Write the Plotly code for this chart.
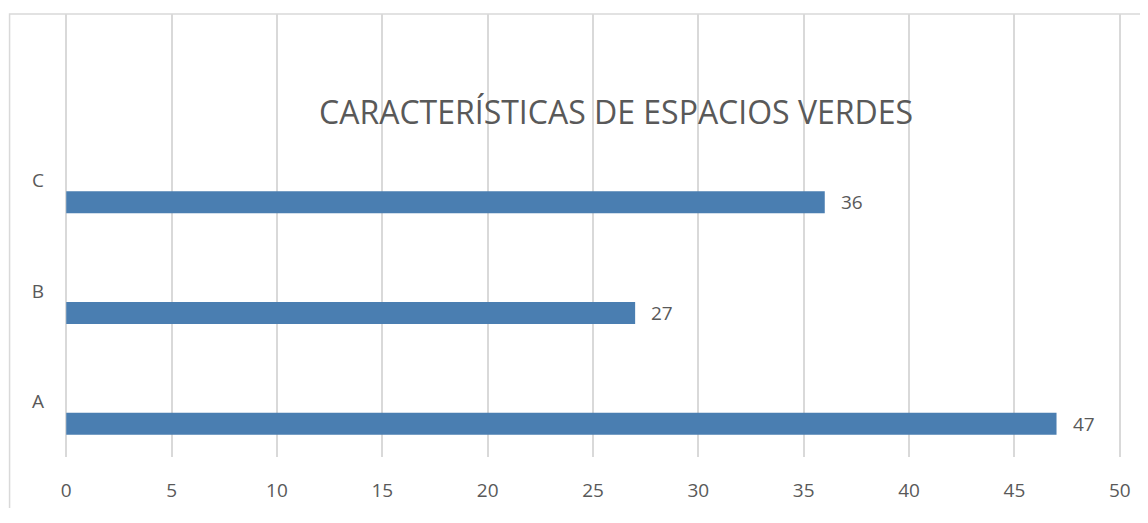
"""
Horizontal bar chart: Características de espacios verdes
"""
import plotly.graph_objects as go

categories = ["A", "B", "C"]
values = [47, 27, 36]
x_ticks = list(range(0, 55, 5))
title_text = "CARACTERÍSTICAS DE ESPACIOS VERDES"

BAR_COLOR = "rgb(74,126,177)"
TEXT_COLOR = "#595959"
GRID_COLOR = "#d9d9d9"
FONT = "Open Sans"

fig = go.Figure()
fig.add_trace(go.Bar(y=categories, x=values, orientation="h",
                     marker={'color': BAR_COLOR, 'line': {'width': 0}},
                     width=0.2, offset=-0.3,
                     hoverinfo="x+y", showlegend=False))

# data labels to the right of each bar, level with the (offset) bar
for cat, v in zip(categories, values):
    fig.add_annotation(x=v, y=cat, text=str(v), showarrow=False,
                       xanchor="left", yanchor="middle", xshift=14, yshift=-22,
                       font={'family': FONT, 'size': 19, 'color': TEXT_COLOR})

# page body has an 8px margin; keep the figure inside the window (no scrollbars)
fig.update_layout(width=1140, height=500,
                  margin={'l': 57, 'r': 27, 't': 6, 'b': 51},
                  paper_bgcolor="white", plot_bgcolor="white",
                  font={'family': FONT, 'color': TEXT_COLOR, 'size': 19},
                  showlegend=False)

# range padded a hair so the gridlines at 0 and 50 are not clipped
fig.update_xaxes(range=[-0.06, 50.06], tickvals=x_ticks, showgrid=True,
                 gridcolor=GRID_COLOR, gridwidth=1.5, zeroline=False,
                 showline=False, ticks="", ticklabelstandoff=20,
                 ticklabeloverflow="allow",
                 tickfont={'size': 19, 'color': TEXT_COLOR})
fig.update_yaxes(type="category", categoryorder="array", categoryarray=categories,
                 range=[-0.5, 3.5], showgrid=False, zeroline=False,
                 showline=False, ticks="", ticklabelstandoff=20,
                 tickfont={'size': 19, 'color': TEXT_COLOR})

# title sits inside the plot area, like the original
fig.add_annotation(text=title_text, x=0.522, xref="paper", y=0.781, yref="paper",
                   showarrow=False, xanchor="center", yanchor="middle",
                   font={'family': FONT, 'size': 32, 'color': TEXT_COLOR})

# outer chart border (cropped at right/bottom in the original)
fig.add_shape(type="rect", xref="paper", yref="paper",
              x0=-0.0525, x1=1.2, y0=-0.5, y1=1.0,
              line={'color': GRID_COLOR, 'width': 1.5}, layer="below")

fig.write_html("out.html")
